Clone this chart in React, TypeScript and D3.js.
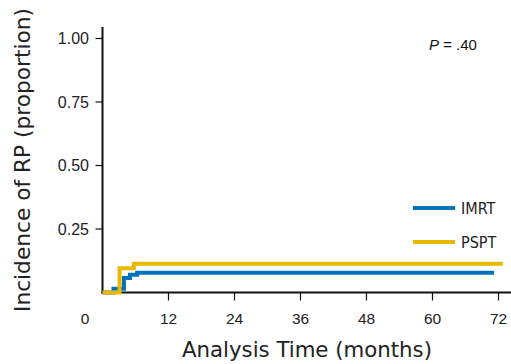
import * as d3 from 'd3';

const W = 511;
const H = 364;

// cumulative incidence, step points (months, proportion)
const imrtTimes = [0, 2.0, 3.9, 5.0, 6.3, 71.2];
const imrtValues = [0, 0.015, 0.057, 0.07, 0.078, 0.078];
const psptTimes = [0, 3.1, 5.7, 72.8];
const psptValues = [0, 0.095, 0.113, 0.113];

const xTicks = [12, 24, 36, 48, 60, 72];
const yTicks = [0.25, 0.5, 0.75, 1.0];

const legendItems = [
  { label: 'IMRT', color: '#0072bc' },
  { label: 'PSPT', color: '#e9b800' },
];

const baseFont = '"Liberation Sans", Arial, sans-serif';
const narrowFont = '"Liberation Sans Narrow", "DejaVu Sans Condensed", "Liberation Sans", sans-serif';

export default function App() {
  const x = d3.scaleLinear().domain([0, 72]).range([102.5, 498.5]);
  const y = d3.scaleLinear().domain([0, 1]).range([292.5, 38.5]);

  const line = d3
    .line<[number, number]>()
    .x((d) => x(d[0]))
    .y((d) => y(d[1]))
    .curve(d3.curveStepAfter);

  const imrt = imrtTimes.map((t, i) => [t, imrtValues[i]] as [number, number]);
  const pspt = psptTimes.map((t, i) => [t, psptValues[i]] as [number, number]);

  const axisX = x(0);
  const axisY = y(0);

  return (
    <svg
      width={W}
      height={H}
      style={{ position: 'absolute', left: 0, top: 0, background: '#fff' }}
    >
      {/* y axis */}
      <line x1={axisX} x2={axisX} y1={27} y2={axisY + 1} stroke="#111" strokeWidth={2} />
      {yTicks.map((t) => (
        <g key={t}>
          <line x1={axisX - 7} x2={axisX} y1={y(t)} y2={y(t)} stroke="#111" strokeWidth={1.2} />
          <text
            x={89}
            y={y(t)}
            dy="0.35em"
            textAnchor="end"
            fontFamily={baseFont}
            fontSize={16}
            fill="#222"
          >
            {d3.format('.2f')(t)}
          </text>
        </g>
      ))}

      {/* x axis */}
      <line x1={axisX - 1} x2={W} y1={axisY} y2={axisY} stroke="#111" strokeWidth={2} />
      {xTicks.map((t) => (
        <g key={t}>
          <line x1={x(t)} x2={x(t)} y1={axisY} y2={axisY + 8} stroke="#111" strokeWidth={1.2} />
          <text
            x={x(t)}
            y={324}
            textAnchor="middle"
            fontFamily={baseFont}
            fontSize={15.5}
            fill="#222"
          >
            {t}
          </text>
        </g>
      ))}
      <text x={85} y={324} textAnchor="middle" fontFamily={baseFont} fontSize={15.5} fill="#222">
        0
      </text>

      {/* curves, drawn over the axes */}
      <path d={line(imrt) ?? ''} fill="none" stroke={legendItems[0].color} strokeWidth={4} />
      <path d={line(pspt) ?? ''} fill="none" stroke={legendItems[1].color} strokeWidth={4} />

      {/* axis titles */}
      <text
        x={307}
        y={357}
        textAnchor="middle"
        fontFamily={narrowFont}
        fontSize={22}
        fill="#222"
        textLength={250}
        lengthAdjust="spacingAndGlyphs"
      >
        Analysis Time (months)
      </text>
      <text
        transform={`translate(30,160) rotate(-90)`}
        textAnchor="middle"
        fontFamily={narrowFont}
        fontSize={22}
        fill="#222"
        textLength={304}
        lengthAdjust="spacingAndGlyphs"
      >
        Incidence of RP (proportion)
      </text>

      {/* p value */}
      <text x={429} y={50} fontFamily={baseFont} fontSize={15} fill="#111">
        <tspan fontStyle="italic">P</tspan> = .40
      </text>

      {/* legend */}
      {legendItems.map((item, i) => {
        const ly = 208 + i * 34;
        return (
          <g key={item.label}>
            <line x1={413} x2={455} y1={ly} y2={ly} stroke={item.color} strokeWidth={4} />
            <text
              x={461}
              y={ly}
              dy="0.36em"
              fontFamily={narrowFont}
              fontSize={16}
              fill="#222"
            >
              {item.label}
            </text>
          </g>
        );
      })}
    </svg>
  );
}
